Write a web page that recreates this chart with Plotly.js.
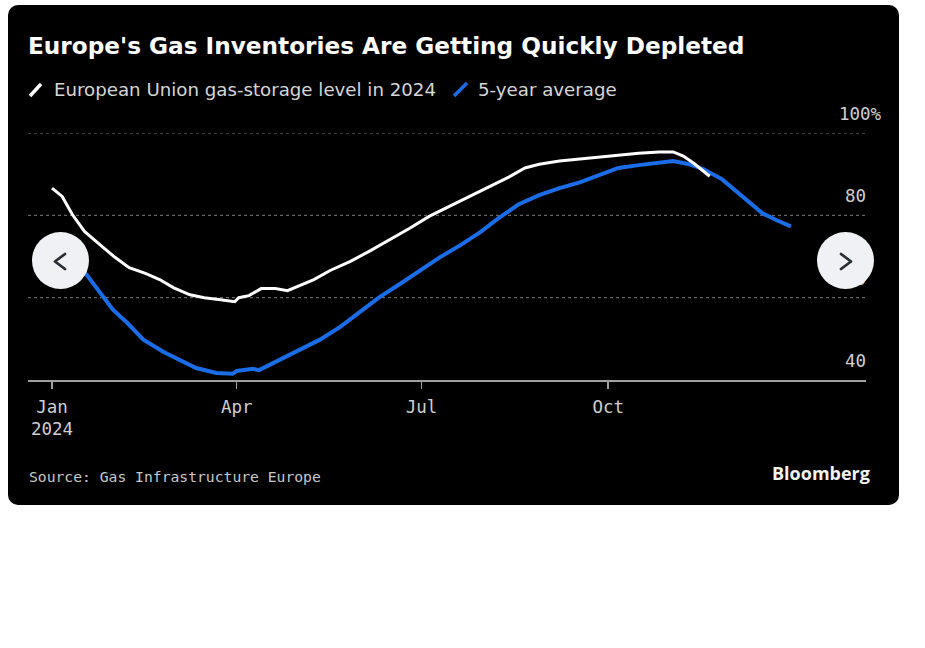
<!DOCTYPE html>
<html>
<head>
<meta charset="utf-8">
<script src="https://cdn.plot.ly/plotly-3.0.1.min.js"></script>
<style>
  html, body { margin: 0; padding: 0; background: #ffffff; }
  #wrap { position: relative; width: 925px; height: 648px; }
  #card { position: absolute; left: 8px; top: 5px; width: 891px; height: 500px; background: #000; border-radius: 10px; }
  #chart { position: absolute; left: 0; top: 0; width: 925px; height: 648px; }
  .nav { position: absolute; width: 57px; height: 57px; border-radius: 50%; background: #eff1f4; top: 232px; }
  .nav svg { position: absolute; left: 0; top: 0; }
</style>
</head>
<body>
<div id="wrap">
  <div id="card"></div>
  <div id="chart"></div>
  <div class="nav" style="left:32px"><svg width="57" height="57"><polyline points="33,22 23,29.5 33,37" fill="none" stroke="#2a2e35" stroke-width="2.8" stroke-linecap="round" stroke-linejoin="round"/></svg></div>
  <div class="nav" style="left:817px"><svg width="57" height="57"><polyline points="24,22 34,29.5 24,37" fill="none" stroke="#2a2e35" stroke-width="2.8" stroke-linecap="round" stroke-linejoin="round"/></svg></div>
</div>
<script>
// ---- Data ----
const storageDates = ['2024-01-01','2024-01-06','2024-01-11','2024-01-17','2024-01-25','2024-02-01','2024-02-08','2024-02-16','2024-02-23','2024-03-01','2024-03-09','2024-03-16','2024-03-24','2024-03-31','2024-04-02','2024-04-07','2024-04-13','2024-04-20','2024-04-26','2024-05-02','2024-05-09','2024-05-17','2024-05-27','2024-06-05','2024-06-15','2024-06-25','2024-07-05','2024-07-15','2024-07-25','2024-08-03','2024-08-13','2024-08-21','2024-08-28','2024-09-07','2024-09-17','2024-09-27','2024-10-06','2024-10-16','2024-10-26','2024-11-02','2024-11-07','2024-11-12','2024-11-20'];
const storage2024 = [86.6,84.6,80.2,76.1,72.7,69.8,67.3,65.9,64.4,62.4,60.7,60.0,59.5,59.0,60.0,60.5,62.2,62.2,61.7,62.9,64.4,66.6,68.8,71.2,73.9,76.8,79.8,82.2,84.6,86.8,89.3,91.5,92.4,93.2,93.7,94.1,94.6,95.1,95.4,95.4,94.4,92.7,89.5];

const avgDates = ['2024-01-01','2024-01-09','2024-01-18','2024-01-25','2024-01-31','2024-02-07','2024-02-15','2024-02-25','2024-03-04','2024-03-12','2024-03-22','2024-03-30','2024-04-01','2024-04-09','2024-04-12','2024-04-22','2024-05-02','2024-05-12','2024-05-22','2024-05-31','2024-06-10','2024-06-20','2024-06-30','2024-07-10','2024-07-20','2024-07-30','2024-08-08','2024-08-18','2024-08-28','2024-09-07','2024-09-17','2024-09-27','2024-10-06','2024-10-16','2024-10-26','2024-11-02','2024-11-10','2024-11-17','2024-11-26','2024-12-06','2024-12-16','2024-12-23','2024-12-30'];
const avg5yr = [72.5,69.5,65.6,61.2,57.1,53.9,49.8,46.8,44.9,42.9,41.7,41.5,42.2,42.7,42.4,44.9,47.3,49.8,52.9,56.3,60.0,63.2,66.6,69.8,72.7,75.9,79.3,82.7,84.9,86.6,88.0,89.8,91.5,92.2,92.7,93.2,92.4,91.2,88.8,84.6,80.5,78.8,77.3];

const xTickVals = ['2024-01-01','2024-04-01','2024-07-01','2024-10-01'];
const xTickText = ['Jan<br>2024','Apr','Jul','Oct'];
const yTickVals = [40, 60, 80, 100];
const yTickText = ['40', '60', '80', '100%'];
const yGridVals = [60, 80, 100];

const titleText = "Europe's Gas Inventories Are Getting Quickly Depleted";
const legendNames = ['European Union gas-storage level in 2024', '5-year average'];
const sourceText = 'Source: Gas Infrastructure Europe';

// ---- Layout helpers (pixel -> paper coords of plot area) ----
const L = 28, R = 866, T = 133, B = 380;
const px = x => (x - L) / (R - L);
const py = y => (B - y) / (B - T);

const WHITE = '#ffffff', BLUE = '#1a6de6';
const MONO = 'DejaVu Sans Mono, monospace';
const SANS = 'DejaVu Sans, sans-serif';
const GRID = '#7a7a7a';

const traces = [
  { x: avgDates, y: avg5yr, type: 'scatter', mode: 'lines', name: legendNames[1],
    line: { color: BLUE, width: 4 }, hoverinfo: 'skip' },
  { x: storageDates, y: storage2024, type: 'scatter', mode: 'lines', name: legendNames[0],
    line: { color: WHITE, width: 3 }, hoverinfo: 'skip' }
];

const annotations = [];
yTickVals.forEach((v, i) => {
  const t = yTickText[i];
  const pct = t.endsWith('%');
  annotations.push({ xref: 'paper', yref: 'y', x: pct ? px(836.5) : px(868), y: v,
    xanchor: pct ? 'left' : 'right', yanchor: 'middle', yshift: 19,
    text: t, showarrow: false, font: { family: MONO, size: 17.5, color: '#cfcfcf' } });
});
annotations.push({ xref: 'paper', yref: 'paper', x: px(52), y: py(89), xanchor: 'left', yanchor: 'middle',
  text: legendNames[0], showarrow: false, font: { family: SANS, size: 18.2, color: '#d6d6d6' } });
annotations.push({ xref: 'paper', yref: 'paper', x: px(476), y: py(89), xanchor: 'left', yanchor: 'middle',
  text: legendNames[1], showarrow: false, font: { family: SANS, size: 18.2, color: '#d6d6d6' } });
annotations.push({ xref: 'paper', yref: 'paper', x: px(27), y: py(476), xanchor: 'left', yanchor: 'middle',
  text: sourceText, showarrow: false, font: { family: MONO, size: 14.7, color: '#c8c8c8' } });
annotations.push({ xref: 'paper', yref: 'paper', x: px(872), y: py(473), xanchor: 'right', yanchor: 'middle',
  text: '<b>Bloomberg</b>', showarrow: false, font: { family: 'Open Sans, sans-serif', size: 18, color: '#f2f2f2' } });

const shapes = [
  { type: 'line', xref: 'paper', yref: 'paper', x0: px(30), y0: py(96), x1: px(41), y1: py(84), line: { color: WHITE, width: 3.5 } },
  { type: 'line', xref: 'paper', yref: 'paper', x0: px(454), y0: py(96), x1: px(467), y1: py(83), line: { color: BLUE, width: 3.5 } }
];
yGridVals.forEach(v => {
  shapes.push({ type: 'line', xref: 'paper', yref: 'y', x0: 0, x1: 1, y0: v, y1: v, layer: 'below',
    line: { color: GRID, width: 1, dash: 'dot' } });
});

const layout = {
  width: 925, height: 648,
  margin: { l: L, r: 925 - R, t: T, b: 648 - B, pad: 0 },
  paper_bgcolor: 'rgba(0,0,0,0)', plot_bgcolor: 'rgba(0,0,0,0)',
  showlegend: false,
  title: { text: '<b>' + titleText + '</b>', xref: 'container', yref: 'container', x: 28 / 925, xanchor: 'left',
    y: 1 - 46 / 648, yanchor: 'middle', font: { family: SANS, size: 23.2, color: '#ffffff' } },
  xaxis: {
    type: 'date', range: ['2023-12-20 04:00', '2025-02-05'],
    tickvals: xTickVals, ticktext: xTickText, ticks: 'outside', ticklen: 7, tickwidth: 1.5, tickcolor: '#a0a0a0',
    ticklabelstandoff: 3,
    showline: true, linecolor: '#a0a0a0', linewidth: 1.5, showgrid: false, zeroline: false,
    tickfont: { family: MONO, size: 17.5, color: '#cfcfcf' }, fixedrange: true
  },
  yaxis: {
    range: [40, 100], showticklabels: false, ticks: '',
    showgrid: false, zeroline: false, showline: false, fixedrange: true
  },
  annotations: annotations, shapes: shapes
};

Plotly.newPlot('chart', traces, layout, { displayModeBar: false, staticPlot: true });
</script>
</body>
</html>
